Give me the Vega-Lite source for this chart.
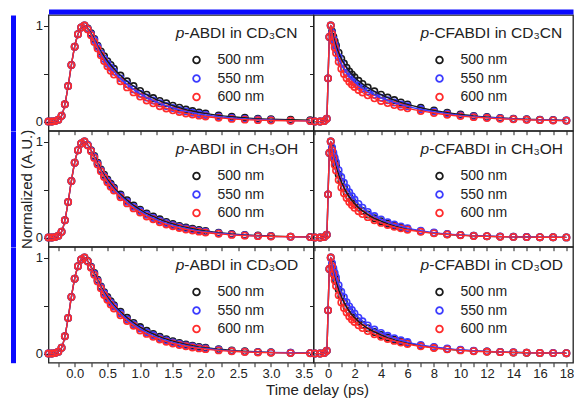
{
"$schema": "https://vega.github.io/schema/vega-lite/v6.json",
"background": "white",
"padding": {"left": 11.5, "top": 10, "right": 0, "bottom": 0},
"config": {
  "font": "Liberation Sans",
  "view": {"stroke": "#222", "strokeWidth": 1.3},
  "point": {"opacity": 1},
  "axis": {"grid": false, "domain": false, "tickColor": "#222", "labelColor": "#222", "labelFont": "Liberation Sans", "labelFontSize": 13, "titleFont": "Liberation Sans", "titleFontSize": 15, "titleFontWeight": "normal", "titleColor": "#222"},
  "legend": {"orient": "none", "title": null, "symbolType": "circle", "symbolSize": 45, "symbolStrokeWidth": 1.8, "symbolOpacity": 1, "labelFontSize": 14, "labelColor": "#222", "rowPadding": 4.5, "labelOffset": 14, "padding": 0}
},
"datasets": {
"aCN": [
{"w":500,"t":-0.4,"v":0},{"w":500,"t":-0.35,"v":0},{"w":500,"t":-0.3,"v":0.005},{"w":500,"t":-0.25,"v":0.02},{"w":500,"t":-0.2,"v":0.06},{"w":500,"t":-0.15,"v":0.18},{"w":500,"t":-0.1,"v":0.37},{"w":500,"t":-0.05,"v":0.59},{"w":500,"t":0,"v":0.78},{"w":500,"t":0.05,"v":0.91},{"w":500,"t":0.1,"v":0.98},{"w":500,"t":0.15,"v":1},
{"w":500,"t":0.2,"v":0.97},{"w":500,"t":0.25,"v":0.92},{"w":500,"t":0.3,"v":0.86},{"w":500,"t":0.35,"v":0.79},{"w":500,"t":0.4,"v":0.73},{"w":500,"t":0.45,"v":0.68},{"w":500,"t":0.5,"v":0.63},{"w":500,"t":0.55,"v":0.59},{"w":500,"t":0.6,"v":0.55},{"w":500,"t":0.7,"v":0.48},{"w":500,"t":0.8,"v":0.42},{"w":500,"t":0.9,"v":0.37},{"w":500,"t":1,"v":0.32},{"w":500,"t":1.1,"v":0.28},{"w":500,"t":1.2,"v":0.245},{"w":500,"t":1.3,"v":0.215},{"w":500,"t":1.4,"v":0.19},{"w":500,"t":1.5,"v":0.165},{"w":500,"t":1.6,"v":0.145},{"w":500,"t":1.7,"v":0.125},{"w":500,"t":1.8,"v":0.11},{"w":500,"t":1.9,"v":0.095},{"w":500,"t":2,"v":0.085},{"w":500,"t":2.2,"v":0.065},{"w":500,"t":2.4,"v":0.05},{"w":500,"t":2.6,"v":0.04},{"w":500,"t":2.8,"v":0.03},{"w":500,"t":3,"v":0.025},{"w":500,"t":3.3,"v":0.02},{"w":500,"t":3.6,"v":0.015},
{"w":550,"t":-0.4,"v":0},{"w":550,"t":-0.35,"v":0},{"w":550,"t":-0.3,"v":0.005},{"w":550,"t":-0.25,"v":0.02},{"w":550,"t":-0.2,"v":0.06},{"w":550,"t":-0.15,"v":0.18},{"w":550,"t":-0.1,"v":0.37},{"w":550,"t":-0.05,"v":0.59},{"w":550,"t":0,"v":0.78},{"w":550,"t":0.05,"v":0.91},{"w":550,"t":0.1,"v":0.98},{"w":550,"t":0.15,"v":1},
{"w":550,"t":0.2,"v":0.965},{"w":550,"t":0.25,"v":0.91},{"w":550,"t":0.3,"v":0.85},{"w":550,"t":0.35,"v":0.78},{"w":550,"t":0.4,"v":0.71},{"w":550,"t":0.45,"v":0.655},{"w":550,"t":0.5,"v":0.605},{"w":550,"t":0.55,"v":0.56},{"w":550,"t":0.6,"v":0.52},{"w":550,"t":0.7,"v":0.45},{"w":550,"t":0.8,"v":0.39},{"w":550,"t":0.9,"v":0.335},{"w":550,"t":1,"v":0.29},{"w":550,"t":1.1,"v":0.25},{"w":550,"t":1.2,"v":0.22},{"w":550,"t":1.3,"v":0.19},{"w":550,"t":1.4,"v":0.163},{"w":550,"t":1.5,"v":0.141},{"w":550,"t":1.6,"v":0.122},{"w":550,"t":1.7,"v":0.106},{"w":550,"t":1.8,"v":0.092},{"w":550,"t":1.9,"v":0.079},{"w":550,"t":2,"v":0.068},{"w":550,"t":2.2,"v":0.051},{"w":550,"t":2.4,"v":0.038},{"w":550,"t":2.6,"v":0.028},{"w":550,"t":2.8,"v":0.021},{"w":550,"t":3,"v":0.016},{"w":550,"t":3.3,"v":0.01},{"w":550,"t":3.6,"v":0.007},
{"w":600,"t":-0.4,"v":0},{"w":600,"t":-0.35,"v":0},{"w":600,"t":-0.3,"v":0.005},{"w":600,"t":-0.25,"v":0.02},{"w":600,"t":-0.2,"v":0.06},{"w":600,"t":-0.15,"v":0.18},{"w":600,"t":-0.1,"v":0.37},{"w":600,"t":-0.05,"v":0.59},{"w":600,"t":0,"v":0.78},{"w":600,"t":0.05,"v":0.91},{"w":600,"t":0.1,"v":0.98},{"w":600,"t":0.15,"v":1},
{"w":600,"t":0.2,"v":0.96},{"w":600,"t":0.25,"v":0.9},{"w":600,"t":0.3,"v":0.83},{"w":600,"t":0.35,"v":0.76},{"w":600,"t":0.4,"v":0.69},{"w":600,"t":0.45,"v":0.63},{"w":600,"t":0.5,"v":0.575},{"w":600,"t":0.55,"v":0.53},{"w":600,"t":0.6,"v":0.49},{"w":600,"t":0.7,"v":0.42},{"w":600,"t":0.8,"v":0.356},{"w":600,"t":0.9,"v":0.304},{"w":600,"t":1,"v":0.26},{"w":600,"t":1.1,"v":0.22},{"w":600,"t":1.2,"v":0.19},{"w":600,"t":1.3,"v":0.16},{"w":600,"t":1.4,"v":0.137},{"w":600,"t":1.5,"v":0.117},{"w":600,"t":1.6,"v":0.1},{"w":600,"t":1.7,"v":0.085},{"w":600,"t":1.8,"v":0.073},{"w":600,"t":1.9,"v":0.062},{"w":600,"t":2,"v":0.053},{"w":600,"t":2.2,"v":0.039},{"w":600,"t":2.4,"v":0.028},{"w":600,"t":2.6,"v":0.02},{"w":600,"t":2.8,"v":0.015},{"w":600,"t":3,"v":0.011},{"w":600,"t":3.3,"v":0.008},{"w":600,"t":3.6,"v":0.005}
],
"aOH": [
{"w":500,"t":-0.4,"v":0},{"w":500,"t":-0.35,"v":0},{"w":500,"t":-0.3,"v":0.005},{"w":500,"t":-0.25,"v":0.02},{"w":500,"t":-0.2,"v":0.06},{"w":500,"t":-0.15,"v":0.18},{"w":500,"t":-0.1,"v":0.37},{"w":500,"t":-0.05,"v":0.59},{"w":500,"t":0,"v":0.78},{"w":500,"t":0.05,"v":0.91},{"w":500,"t":0.1,"v":0.98},{"w":500,"t":0.15,"v":1},
{"w":500,"t":0.2,"v":0.965},{"w":500,"t":0.25,"v":0.91},{"w":500,"t":0.3,"v":0.85},{"w":500,"t":0.35,"v":0.78},{"w":500,"t":0.4,"v":0.71},{"w":500,"t":0.45,"v":0.655},{"w":500,"t":0.5,"v":0.605},{"w":500,"t":0.55,"v":0.56},{"w":500,"t":0.6,"v":0.52},{"w":500,"t":0.7,"v":0.45},{"w":500,"t":0.8,"v":0.39},{"w":500,"t":0.9,"v":0.335},{"w":500,"t":1,"v":0.29},{"w":500,"t":1.1,"v":0.25},{"w":500,"t":1.2,"v":0.22},{"w":500,"t":1.3,"v":0.19},{"w":500,"t":1.4,"v":0.163},{"w":500,"t":1.5,"v":0.141},{"w":500,"t":1.6,"v":0.122},{"w":500,"t":1.7,"v":0.106},{"w":500,"t":1.8,"v":0.092},{"w":500,"t":1.9,"v":0.079},{"w":500,"t":2,"v":0.068},{"w":500,"t":2.2,"v":0.051},{"w":500,"t":2.4,"v":0.038},{"w":500,"t":2.6,"v":0.028},{"w":500,"t":2.8,"v":0.021},{"w":500,"t":3,"v":0.016},{"w":500,"t":3.3,"v":0.01},{"w":500,"t":3.6,"v":0.007},
{"w":550,"t":-0.4,"v":0},{"w":550,"t":-0.35,"v":0},{"w":550,"t":-0.3,"v":0.005},{"w":550,"t":-0.25,"v":0.02},{"w":550,"t":-0.2,"v":0.06},{"w":550,"t":-0.15,"v":0.18},{"w":550,"t":-0.1,"v":0.37},{"w":550,"t":-0.05,"v":0.59},{"w":550,"t":0,"v":0.78},{"w":550,"t":0.05,"v":0.91},{"w":550,"t":0.1,"v":0.98},{"w":550,"t":0.15,"v":1},
{"w":550,"t":0.2,"v":0.965},{"w":550,"t":0.25,"v":0.905},{"w":550,"t":0.3,"v":0.84},{"w":550,"t":0.35,"v":0.77},{"w":550,"t":0.4,"v":0.7},{"w":550,"t":0.45,"v":0.64},{"w":550,"t":0.5,"v":0.59},{"w":550,"t":0.55,"v":0.545},{"w":550,"t":0.6,"v":0.505},{"w":550,"t":0.7,"v":0.435},{"w":550,"t":0.8,"v":0.373},{"w":550,"t":0.9,"v":0.32},{"w":550,"t":1,"v":0.276},{"w":550,"t":1.1,"v":0.237},{"w":550,"t":1.2,"v":0.204},{"w":550,"t":1.3,"v":0.175},{"w":550,"t":1.4,"v":0.15},{"w":550,"t":1.5,"v":0.129},{"w":550,"t":1.6,"v":0.111},{"w":550,"t":1.7,"v":0.095},{"w":550,"t":1.8,"v":0.082},{"w":550,"t":1.9,"v":0.07},{"w":550,"t":2,"v":0.06},{"w":550,"t":2.2,"v":0.045},{"w":550,"t":2.4,"v":0.033},{"w":550,"t":2.6,"v":0.024},{"w":550,"t":2.8,"v":0.018},{"w":550,"t":3,"v":0.013},{"w":550,"t":3.3,"v":0.009},{"w":550,"t":3.6,"v":0.005},
{"w":600,"t":-0.4,"v":0},{"w":600,"t":-0.35,"v":0},{"w":600,"t":-0.3,"v":0.005},{"w":600,"t":-0.25,"v":0.02},{"w":600,"t":-0.2,"v":0.06},{"w":600,"t":-0.15,"v":0.18},{"w":600,"t":-0.1,"v":0.37},{"w":600,"t":-0.05,"v":0.59},{"w":600,"t":0,"v":0.78},{"w":600,"t":0.05,"v":0.91},{"w":600,"t":0.1,"v":0.98},{"w":600,"t":0.15,"v":1},
{"w":600,"t":0.2,"v":0.96},{"w":600,"t":0.25,"v":0.9},{"w":600,"t":0.3,"v":0.83},{"w":600,"t":0.35,"v":0.76},{"w":600,"t":0.4,"v":0.69},{"w":600,"t":0.45,"v":0.63},{"w":600,"t":0.5,"v":0.575},{"w":600,"t":0.55,"v":0.53},{"w":600,"t":0.6,"v":0.49},{"w":600,"t":0.7,"v":0.42},{"w":600,"t":0.8,"v":0.356},{"w":600,"t":0.9,"v":0.304},{"w":600,"t":1,"v":0.26},{"w":600,"t":1.1,"v":0.22},{"w":600,"t":1.2,"v":0.19},{"w":600,"t":1.3,"v":0.16},{"w":600,"t":1.4,"v":0.137},{"w":600,"t":1.5,"v":0.117},{"w":600,"t":1.6,"v":0.1},{"w":600,"t":1.7,"v":0.085},{"w":600,"t":1.8,"v":0.073},{"w":600,"t":1.9,"v":0.062},{"w":600,"t":2,"v":0.053},{"w":600,"t":2.2,"v":0.039},{"w":600,"t":2.4,"v":0.028},{"w":600,"t":2.6,"v":0.02},{"w":600,"t":2.8,"v":0.015},{"w":600,"t":3,"v":0.011},{"w":600,"t":3.3,"v":0.008},{"w":600,"t":3.6,"v":0.005}
],
"aOD": [
{"w":500,"t":-0.4,"v":0},{"w":500,"t":-0.35,"v":0},{"w":500,"t":-0.3,"v":0.005},{"w":500,"t":-0.25,"v":0.02},{"w":500,"t":-0.2,"v":0.06},{"w":500,"t":-0.15,"v":0.18},{"w":500,"t":-0.1,"v":0.37},{"w":500,"t":-0.05,"v":0.59},{"w":500,"t":0,"v":0.78},{"w":500,"t":0.05,"v":0.91},{"w":500,"t":0.1,"v":0.98},{"w":500,"t":0.15,"v":1},
{"w":500,"t":0.2,"v":0.965},{"w":500,"t":0.25,"v":0.905},{"w":500,"t":0.3,"v":0.84},{"w":500,"t":0.35,"v":0.77},{"w":500,"t":0.4,"v":0.7},{"w":500,"t":0.45,"v":0.64},{"w":500,"t":0.5,"v":0.59},{"w":500,"t":0.55,"v":0.545},{"w":500,"t":0.6,"v":0.505},{"w":500,"t":0.7,"v":0.435},{"w":500,"t":0.8,"v":0.373},{"w":500,"t":0.9,"v":0.32},{"w":500,"t":1,"v":0.276},{"w":500,"t":1.1,"v":0.237},{"w":500,"t":1.2,"v":0.204},{"w":500,"t":1.3,"v":0.175},{"w":500,"t":1.4,"v":0.15},{"w":500,"t":1.5,"v":0.129},{"w":500,"t":1.6,"v":0.111},{"w":500,"t":1.7,"v":0.095},{"w":500,"t":1.8,"v":0.082},{"w":500,"t":1.9,"v":0.07},{"w":500,"t":2,"v":0.06},{"w":500,"t":2.2,"v":0.045},{"w":500,"t":2.4,"v":0.033},{"w":500,"t":2.6,"v":0.024},{"w":500,"t":2.8,"v":0.018},{"w":500,"t":3,"v":0.013},{"w":500,"t":3.3,"v":0.009},{"w":500,"t":3.6,"v":0.005},
{"w":550,"t":-0.4,"v":0},{"w":550,"t":-0.35,"v":0},{"w":550,"t":-0.3,"v":0.005},{"w":550,"t":-0.25,"v":0.02},{"w":550,"t":-0.2,"v":0.06},{"w":550,"t":-0.15,"v":0.18},{"w":550,"t":-0.1,"v":0.37},{"w":550,"t":-0.05,"v":0.59},{"w":550,"t":0,"v":0.78},{"w":550,"t":0.05,"v":0.91},{"w":550,"t":0.1,"v":0.98},{"w":550,"t":0.15,"v":1},
{"w":550,"t":0.2,"v":0.96},{"w":550,"t":0.25,"v":0.9},{"w":550,"t":0.3,"v":0.83},{"w":550,"t":0.35,"v":0.76},{"w":550,"t":0.4,"v":0.69},{"w":550,"t":0.45,"v":0.63},{"w":550,"t":0.5,"v":0.575},{"w":550,"t":0.55,"v":0.53},{"w":550,"t":0.6,"v":0.49},{"w":550,"t":0.7,"v":0.42},{"w":550,"t":0.8,"v":0.356},{"w":550,"t":0.9,"v":0.304},{"w":550,"t":1,"v":0.26},{"w":550,"t":1.1,"v":0.22},{"w":550,"t":1.2,"v":0.19},{"w":550,"t":1.3,"v":0.16},{"w":550,"t":1.4,"v":0.137},{"w":550,"t":1.5,"v":0.117},{"w":550,"t":1.6,"v":0.1},{"w":550,"t":1.7,"v":0.085},{"w":550,"t":1.8,"v":0.073},{"w":550,"t":1.9,"v":0.062},{"w":550,"t":2,"v":0.053},{"w":550,"t":2.2,"v":0.039},{"w":550,"t":2.4,"v":0.028},{"w":550,"t":2.6,"v":0.02},{"w":550,"t":2.8,"v":0.015},{"w":550,"t":3,"v":0.011},{"w":550,"t":3.3,"v":0.008},{"w":550,"t":3.6,"v":0.005},
{"w":600,"t":-0.4,"v":0},{"w":600,"t":-0.35,"v":0},{"w":600,"t":-0.3,"v":0.005},{"w":600,"t":-0.25,"v":0.02},{"w":600,"t":-0.2,"v":0.06},{"w":600,"t":-0.15,"v":0.18},{"w":600,"t":-0.1,"v":0.37},{"w":600,"t":-0.05,"v":0.59},{"w":600,"t":0,"v":0.78},{"w":600,"t":0.05,"v":0.91},{"w":600,"t":0.1,"v":0.98},{"w":600,"t":0.15,"v":1},
{"w":600,"t":0.2,"v":0.96},{"w":600,"t":0.25,"v":0.895},{"w":600,"t":0.3,"v":0.82},{"w":600,"t":0.35,"v":0.75},{"w":600,"t":0.4,"v":0.68},{"w":600,"t":0.45,"v":0.61},{"w":600,"t":0.5,"v":0.56},{"w":600,"t":0.55,"v":0.51},{"w":600,"t":0.6,"v":0.47},{"w":600,"t":0.7,"v":0.4},{"w":600,"t":0.8,"v":0.34},{"w":600,"t":0.9,"v":0.29},{"w":600,"t":1,"v":0.24},{"w":600,"t":1.1,"v":0.205},{"w":600,"t":1.2,"v":0.174},{"w":600,"t":1.3,"v":0.147},{"w":600,"t":1.4,"v":0.124},{"w":600,"t":1.5,"v":0.105},{"w":600,"t":1.6,"v":0.089},{"w":600,"t":1.7,"v":0.076},{"w":600,"t":1.8,"v":0.064},{"w":600,"t":1.9,"v":0.054},{"w":600,"t":2,"v":0.046},{"w":600,"t":2.2,"v":0.033},{"w":600,"t":2.4,"v":0.024},{"w":600,"t":2.6,"v":0.017},{"w":600,"t":2.8,"v":0.012},{"w":600,"t":3,"v":0.009},{"w":600,"t":3.3,"v":0.005},{"w":600,"t":3.6,"v":0.003}
],
"cCN": [
{"w":500,"t":-1,"v":0},{"w":500,"t":-0.6,"v":0},{"w":500,"t":-0.3,"v":0.005},{"w":500,"t":-0.1,"v":0.03},{"w":500,"t":0,"v":0.45},{"w":500,"t":0.1,"v":0.88},{"w":500,"t":0.2,"v":1},
{"w":500,"t":0.3,"v":0.939},{"w":500,"t":0.4,"v":0.885},{"w":500,"t":0.5,"v":0.836},{"w":500,"t":0.6,"v":0.793},{"w":500,"t":0.8,"v":0.717},{"w":500,"t":1,"v":0.656},{"w":500,"t":1.2,"v":0.605},{"w":500,"t":1.4,"v":0.561},{"w":500,"t":1.6,"v":0.523},{"w":500,"t":1.8,"v":0.492},{"w":500,"t":2,"v":0.463},{"w":500,"t":2.3,"v":0.425},{"w":500,"t":2.6,"v":0.393},{"w":500,"t":3,"v":0.355},{"w":500,"t":3.5,"v":0.315},{"w":500,"t":4,"v":0.281},{"w":500,"t":4.5,"v":0.25},{"w":500,"t":5,"v":0.224},{"w":500,"t":5.5,"v":0.2},{"w":500,"t":6,"v":0.179},{"w":500,"t":7,"v":0.144},{"w":500,"t":8,"v":0.115},{"w":500,"t":9,"v":0.092},{"w":500,"t":10,"v":0.073},{"w":500,"t":11,"v":0.059},{"w":500,"t":12,"v":0.047},{"w":500,"t":13,"v":0.038},{"w":500,"t":14,"v":0.031},{"w":500,"t":15,"v":0.024},{"w":500,"t":16,"v":0.02},{"w":500,"t":17,"v":0.016},{"w":500,"t":18,"v":0.012},
{"w":550,"t":-1,"v":0},{"w":550,"t":-0.6,"v":0},{"w":550,"t":-0.3,"v":0.005},{"w":550,"t":-0.1,"v":0.03},{"w":550,"t":0,"v":0.45},{"w":550,"t":0.1,"v":0.88},{"w":550,"t":0.2,"v":1},
{"w":550,"t":0.3,"v":0.925},{"w":550,"t":0.4,"v":0.861},{"w":550,"t":0.5,"v":0.804},{"w":550,"t":0.6,"v":0.754},{"w":550,"t":0.8,"v":0.67},{"w":550,"t":1,"v":0.604},{"w":550,"t":1.2,"v":0.551},{"w":550,"t":1.4,"v":0.506},{"w":550,"t":1.6,"v":0.469},{"w":550,"t":1.8,"v":0.439},{"w":550,"t":2,"v":0.412},{"w":550,"t":2.3,"v":0.377},{"w":550,"t":2.6,"v":0.348},{"w":550,"t":3,"v":0.314},{"w":550,"t":3.5,"v":0.279},{"w":550,"t":4,"v":0.248},{"w":550,"t":4.5,"v":0.222},{"w":550,"t":5,"v":0.198},{"w":550,"t":5.5,"v":0.177},{"w":550,"t":6,"v":0.159},{"w":550,"t":7,"v":0.128},{"w":550,"t":8,"v":0.102},{"w":550,"t":9,"v":0.082},{"w":550,"t":10,"v":0.065},{"w":550,"t":11,"v":0.053},{"w":550,"t":12,"v":0.042},{"w":550,"t":13,"v":0.034},{"w":550,"t":14,"v":0.028},{"w":550,"t":15,"v":0.022},{"w":550,"t":16,"v":0.018},{"w":550,"t":17,"v":0.014},{"w":550,"t":18,"v":0.011},
{"w":600,"t":-1,"v":0},{"w":600,"t":-0.6,"v":0},{"w":600,"t":-0.3,"v":0.005},{"w":600,"t":-0.1,"v":0.03},{"w":600,"t":0,"v":0.45},{"w":600,"t":0.1,"v":0.88},{"w":600,"t":0.2,"v":1},
{"w":600,"t":0.3,"v":0.912},{"w":600,"t":0.4,"v":0.837},{"w":600,"t":0.5,"v":0.771},{"w":600,"t":0.6,"v":0.715},{"w":600,"t":0.8,"v":0.622},{"w":600,"t":1,"v":0.551},{"w":600,"t":1.2,"v":0.496},{"w":600,"t":1.4,"v":0.451},{"w":600,"t":1.6,"v":0.415},{"w":600,"t":1.8,"v":0.386},{"w":600,"t":2,"v":0.36},{"w":600,"t":2.3,"v":0.329},{"w":600,"t":2.6,"v":0.303},{"w":600,"t":3,"v":0.273},{"w":600,"t":3.5,"v":0.242},{"w":600,"t":4,"v":0.215},{"w":600,"t":4.5,"v":0.193},{"w":600,"t":5,"v":0.172},{"w":600,"t":5.5,"v":0.154},{"w":600,"t":6,"v":0.138},{"w":600,"t":7,"v":0.111},{"w":600,"t":8,"v":0.089},{"w":600,"t":9,"v":0.071},{"w":600,"t":10,"v":0.057},{"w":600,"t":11,"v":0.046},{"w":600,"t":12,"v":0.037},{"w":600,"t":13,"v":0.029},{"w":600,"t":14,"v":0.024},{"w":600,"t":15,"v":0.019},{"w":600,"t":16,"v":0.015},{"w":600,"t":17,"v":0.012},{"w":600,"t":18,"v":0.01}
],
"cOH": [
{"w":500,"t":-1,"v":0},{"w":500,"t":-0.6,"v":0},{"w":500,"t":-0.3,"v":0.005},{"w":500,"t":-0.1,"v":0.03},{"w":500,"t":0,"v":0.45},{"w":500,"t":0.1,"v":0.88},{"w":500,"t":0.2,"v":1},
{"w":500,"t":0.3,"v":0.927},{"w":500,"t":0.4,"v":0.861},{"w":500,"t":0.5,"v":0.803},{"w":500,"t":0.6,"v":0.749},{"w":500,"t":0.8,"v":0.658},{"w":500,"t":1,"v":0.583},{"w":500,"t":1.2,"v":0.522},{"w":500,"t":1.4,"v":0.469},{"w":500,"t":1.6,"v":0.425},{"w":500,"t":1.8,"v":0.387},{"w":500,"t":2,"v":0.355},{"w":500,"t":2.3,"v":0.312},{"w":500,"t":2.6,"v":0.278},{"w":500,"t":3,"v":0.24},{"w":500,"t":3.5,"v":0.201},{"w":500,"t":4,"v":0.171},{"w":500,"t":4.5,"v":0.144},{"w":500,"t":5,"v":0.123},{"w":500,"t":5.5,"v":0.105},{"w":500,"t":6,"v":0.09},{"w":500,"t":7,"v":0.065},{"w":500,"t":8,"v":0.048},{"w":500,"t":9,"v":0.035},{"w":500,"t":10,"v":0.026},{"w":500,"t":11,"v":0.019},{"w":500,"t":12,"v":0.014},{"w":500,"t":13,"v":0.01},{"w":500,"t":14,"v":0.008},{"w":500,"t":15,"v":0.006},{"w":500,"t":16,"v":0.004},{"w":500,"t":17,"v":0.003},{"w":500,"t":18,"v":0.002},
{"w":550,"t":-1,"v":0},{"w":550,"t":-0.6,"v":0},{"w":550,"t":-0.3,"v":0.005},{"w":550,"t":-0.1,"v":0.03},{"w":550,"t":0,"v":0.45},{"w":550,"t":0.1,"v":0.88},{"w":550,"t":0.2,"v":1},
{"w":550,"t":0.3,"v":0.939},{"w":550,"t":0.4,"v":0.883},{"w":550,"t":0.5,"v":0.833},{"w":550,"t":0.6,"v":0.785},{"w":550,"t":0.8,"v":0.702},{"w":550,"t":1,"v":0.631},{"w":550,"t":1.2,"v":0.571},{"w":550,"t":1.4,"v":0.518},{"w":550,"t":1.6,"v":0.472},{"w":550,"t":1.8,"v":0.432},{"w":550,"t":2,"v":0.396},{"w":550,"t":2.3,"v":0.35},{"w":550,"t":2.6,"v":0.311},{"w":550,"t":3,"v":0.268},{"w":550,"t":3.5,"v":0.224},{"w":550,"t":4,"v":0.189},{"w":550,"t":4.5,"v":0.16},{"w":550,"t":5,"v":0.136},{"w":550,"t":5.5,"v":0.116},{"w":550,"t":6,"v":0.098},{"w":550,"t":7,"v":0.071},{"w":550,"t":8,"v":0.052},{"w":550,"t":9,"v":0.038},{"w":550,"t":10,"v":0.028},{"w":550,"t":11,"v":0.02},{"w":550,"t":12,"v":0.015},{"w":550,"t":13,"v":0.011},{"w":550,"t":14,"v":0.008},{"w":550,"t":15,"v":0.006},{"w":550,"t":16,"v":0.004},{"w":550,"t":17,"v":0.003},{"w":550,"t":18,"v":0.002},
{"w":600,"t":-1,"v":0},{"w":600,"t":-0.6,"v":0},{"w":600,"t":-0.3,"v":0.005},{"w":600,"t":-0.1,"v":0.03},{"w":600,"t":0,"v":0.45},{"w":600,"t":0.1,"v":0.88},{"w":600,"t":0.2,"v":1},
{"w":600,"t":0.3,"v":0.908},{"w":600,"t":0.4,"v":0.828},{"w":600,"t":0.5,"v":0.758},{"w":600,"t":0.6,"v":0.698},{"w":600,"t":0.8,"v":0.599},{"w":600,"t":1,"v":0.522},{"w":600,"t":1.2,"v":0.461},{"w":600,"t":1.4,"v":0.412},{"w":600,"t":1.6,"v":0.371},{"w":600,"t":1.8,"v":0.339},{"w":600,"t":2,"v":0.31},{"w":600,"t":2.3,"v":0.275},{"w":600,"t":2.6,"v":0.245},{"w":600,"t":3,"v":0.213},{"w":600,"t":3.5,"v":0.181},{"w":600,"t":4,"v":0.153},{"w":600,"t":4.5,"v":0.131},{"w":600,"t":5,"v":0.112},{"w":600,"t":5.5,"v":0.096},{"w":600,"t":6,"v":0.082},{"w":600,"t":7,"v":0.06},{"w":600,"t":8,"v":0.044},{"w":600,"t":9,"v":0.032},{"w":600,"t":10,"v":0.024},{"w":600,"t":11,"v":0.017},{"w":600,"t":12,"v":0.013},{"w":600,"t":13,"v":0.009},{"w":600,"t":14,"v":0.007},{"w":600,"t":15,"v":0.005},{"w":600,"t":16,"v":0.004},{"w":600,"t":17,"v":0.003},{"w":600,"t":18,"v":0.002}
],
"cOD": [
{"w":500,"t":-1,"v":0},{"w":500,"t":-0.6,"v":0},{"w":500,"t":-0.3,"v":0.005},{"w":500,"t":-0.1,"v":0.03},{"w":500,"t":0,"v":0.45},{"w":500,"t":0.1,"v":0.88},{"w":500,"t":0.2,"v":1},
{"w":500,"t":0.3,"v":0.929},{"w":500,"t":0.4,"v":0.865},{"w":500,"t":0.5,"v":0.808},{"w":500,"t":0.6,"v":0.756},{"w":500,"t":0.8,"v":0.667},{"w":500,"t":1,"v":0.596},{"w":500,"t":1.2,"v":0.535},{"w":500,"t":1.4,"v":0.485},{"w":500,"t":1.6,"v":0.443},{"w":500,"t":1.8,"v":0.406},{"w":500,"t":2,"v":0.375},{"w":500,"t":2.3,"v":0.334},{"w":500,"t":2.6,"v":0.3},{"w":500,"t":3,"v":0.263},{"w":500,"t":3.5,"v":0.225},{"w":500,"t":4,"v":0.194},{"w":500,"t":4.5,"v":0.167},{"w":500,"t":5,"v":0.145},{"w":500,"t":5.5,"v":0.126},{"w":500,"t":6,"v":0.11},{"w":500,"t":7,"v":0.083},{"w":500,"t":8,"v":0.063},{"w":500,"t":9,"v":0.048},{"w":500,"t":10,"v":0.036},{"w":500,"t":11,"v":0.028},{"w":500,"t":12,"v":0.021},{"w":500,"t":13,"v":0.016},{"w":500,"t":14,"v":0.012},{"w":500,"t":15,"v":0.009},{"w":500,"t":16,"v":0.007},{"w":500,"t":17,"v":0.005},{"w":500,"t":18,"v":0.004},
{"w":550,"t":-1,"v":0},{"w":550,"t":-0.6,"v":0},{"w":550,"t":-0.3,"v":0.005},{"w":550,"t":-0.1,"v":0.03},{"w":550,"t":0,"v":0.45},{"w":550,"t":0.1,"v":0.88},{"w":550,"t":0.2,"v":1},
{"w":550,"t":0.3,"v":0.942},{"w":550,"t":0.4,"v":0.888},{"w":550,"t":0.5,"v":0.839},{"w":550,"t":0.6,"v":0.793},{"w":550,"t":0.8,"v":0.713},{"w":550,"t":1,"v":0.645},{"w":550,"t":1.2,"v":0.586},{"w":550,"t":1.4,"v":0.536},{"w":550,"t":1.6,"v":0.491},{"w":550,"t":1.8,"v":0.453},{"w":550,"t":2,"v":0.418},{"w":550,"t":2.3,"v":0.374},{"w":550,"t":2.6,"v":0.336},{"w":550,"t":3,"v":0.293},{"w":550,"t":3.5,"v":0.25},{"w":550,"t":4,"v":0.215},{"w":550,"t":4.5,"v":0.185},{"w":550,"t":5,"v":0.16},{"w":550,"t":5.5,"v":0.138},{"w":550,"t":6,"v":0.12},{"w":550,"t":7,"v":0.091},{"w":550,"t":8,"v":0.069},{"w":550,"t":9,"v":0.052},{"w":550,"t":10,"v":0.04},{"w":550,"t":11,"v":0.03},{"w":550,"t":12,"v":0.023},{"w":550,"t":13,"v":0.017},{"w":550,"t":14,"v":0.013},{"w":550,"t":15,"v":0.01},{"w":550,"t":16,"v":0.007},{"w":550,"t":17,"v":0.006},{"w":550,"t":18,"v":0.004},
{"w":600,"t":-1,"v":0},{"w":600,"t":-0.6,"v":0},{"w":600,"t":-0.3,"v":0.005},{"w":600,"t":-0.1,"v":0.03},{"w":600,"t":0,"v":0.45},{"w":600,"t":0.1,"v":0.88},{"w":600,"t":0.2,"v":1},
{"w":600,"t":0.3,"v":0.91},{"w":600,"t":0.4,"v":0.831},{"w":600,"t":0.5,"v":0.763},{"w":600,"t":0.6,"v":0.705},{"w":600,"t":0.8,"v":0.607},{"w":600,"t":1,"v":0.533},{"w":600,"t":1.2,"v":0.474},{"w":600,"t":1.4,"v":0.427},{"w":600,"t":1.6,"v":0.387},{"w":600,"t":1.8,"v":0.356},{"w":600,"t":2,"v":0.329},{"w":600,"t":2.3,"v":0.294},{"w":600,"t":2.6,"v":0.266},{"w":600,"t":3,"v":0.234},{"w":600,"t":3.5,"v":0.202},{"w":600,"t":4,"v":0.174},{"w":600,"t":4.5,"v":0.152},{"w":600,"t":5,"v":0.132},{"w":600,"t":5.5,"v":0.115},{"w":600,"t":6,"v":0.1},{"w":600,"t":7,"v":0.076},{"w":600,"t":8,"v":0.058},{"w":600,"t":9,"v":0.044},{"w":600,"t":10,"v":0.033},{"w":600,"t":11,"v":0.025},{"w":600,"t":12,"v":0.019},{"w":600,"t":13,"v":0.015},{"w":600,"t":14,"v":0.011},{"w":600,"t":15,"v":0.008},{"w":600,"t":16,"v":0.006},{"w":600,"t":17,"v":0.005},{"w":600,"t":18,"v":0.004}
]
},
"columns": 2,
"spacing": 0,
"bounds": "flush",
"resolve": {"legend": {"color": "independent"}},
"concat": [
{
 "width": 265, "height": 115.7, "data": {"name": "aCN"},
 "layer": [
  {"mark": {"type": "point", "filled": false, "size": 40, "strokeWidth": 1.6, "opacity": 1},
   "encoding": {
    "x": {"field": "t", "type": "quantitative", "scale": {"domain": [-0.4, 3.65], "nice": false, "zero": false}, "axis": {"values": [-0.25,0,0.25,0.5,0.75,1,1.25,1.5,1.75,2,2.25,2.5,2.75,3,3.25,3.5], "labels": false, "tickSize": 4, "title": null}},
    "y": {"field": "v", "type": "quantitative", "scale": {"domain": [-0.095, 1.11], "nice": false, "zero": false}, "axis": {"values": [0,0.5,1], "labelExpr": "datum.value == 0.5 ? '' : format(datum.value, 'd')", "tickSize": 5, "labelPadding": 1, "title": null}},
    "color": {"field": "w", "type": "nominal", "scale": {"domain": [500,550,600], "range": ["#1a1a1a","#3c3cff","#ff2b2b"]}, "legend": {"legendX": 141, "legendY": 38, "labelExpr": "datum.label + ' nm'"}}
   }},
  {"mark": {"type": "line", "strokeWidth": 1.4, "interpolate": "monotone"},
   "encoding": {
    "x": {"field": "t", "type": "quantitative", "axis": {"orient": "top", "offset": 3.5, "domain": true, "domainColor": "#0a0aff", "domainWidth": 5, "ticks": false, "labels": false, "title": null}},
    "y": {"field": "v", "type": "quantitative", "axis": {"orient": "left", "offset": 35.5, "domain": true, "domainColor": "#0a0aff", "domainWidth": 5, "ticks": false, "labels": false, "title": null}},
    "stroke": {"field": "w", "type": "nominal", "scale": {"domain": [500,550,600], "range": ["#1a1a1a","#3c3cff","#ff2b2b"]}, "legend": null}
   }},
  {"data": {"values": [{}]}, "mark": {"type": "text", "fontStyle": "italic", "fontSize": 15.5, "align": "left", "baseline": "middle", "color": "#222"},
   "encoding": {"x": {"datum": 1.544, "type": "quantitative", "axis": null}, "y": {"datum": 0.925, "type": "quantitative", "axis": null}, "text": {"value": "p"}}},
  {"data": {"values": [{}]}, "mark": {"type": "text", "fontSize": 15.5, "align": "left", "baseline": "middle", "color": "#222"},
   "encoding": {"x": {"datum": 1.675, "type": "quantitative", "axis": null}, "y": {"datum": 0.925, "type": "quantitative", "axis": null}, "text": {"value": "-ABDI in CD₃CN"}}}
 ],
 "resolve": {"axis": {"x": "independent", "y": "independent"}}
},
{
 "width": 259.5, "height": 115.7, "data": {"name": "cCN"},
 "layer": [
  {"mark": {"type": "point", "filled": false, "size": 40, "strokeWidth": 1.6, "opacity": 1},
   "encoding": {
    "x": {"field": "t", "type": "quantitative", "scale": {"domain": [-1.1, 18.5], "nice": false, "zero": false}, "axis": {"values": [-1,0,1,2,3,4,5,6,7,8,9,10,11,12,13,14,15,16,17,18], "labels": false, "tickSize": 4, "title": null}},
    "y": {"field": "v", "type": "quantitative", "scale": {"domain": [-0.095, 1.11], "nice": false, "zero": false}, "axis": {"values": [0,0.5,1], "labels": false, "tickSize": 4, "title": null}},
    "color": {"field": "w", "type": "nominal", "scale": {"domain": [500,550,600], "range": ["#1a1a1a","#3c3cff","#ff2b2b"]}, "legend": {"legendX": 119, "legendY": 38, "labelExpr": "datum.label + ' nm'"}}
   }},
  {"mark": {"type": "line", "strokeWidth": 1.4, "interpolate": "monotone"},
   "encoding": {
    "x": {"field": "t", "type": "quantitative", "axis": {"orient": "top", "offset": 3.5, "domain": true, "domainColor": "#0a0aff", "domainWidth": 5, "ticks": false, "labels": false, "title": null}},
    "y": {"field": "v", "type": "quantitative", "axis": null},
    "stroke": {"field": "w", "type": "nominal", "scale": {"domain": [500,550,600], "range": ["#1a1a1a","#3c3cff","#ff2b2b"]}, "legend": null}
   }},
  {"data": {"values": [{}]}, "mark": {"type": "text", "fontStyle": "italic", "fontSize": 15.5, "align": "left", "baseline": "middle", "color": "#222"},
   "encoding": {"x": {"datum": 6.99, "type": "quantitative", "axis": null}, "y": {"datum": 0.925, "type": "quantitative", "axis": null}, "text": {"value": "p"}}},
  {"data": {"values": [{}]}, "mark": {"type": "text", "fontSize": 15.5, "align": "left", "baseline": "middle", "color": "#222"},
   "encoding": {"x": {"datum": 7.64, "type": "quantitative", "axis": null}, "y": {"datum": 0.925, "type": "quantitative", "axis": null}, "text": {"value": "-CFABDI in CD₃CN"}}}
 ],
 "resolve": {"axis": {"x": "independent", "y": "independent"}}
},
{
 "width": 265, "height": 115.7, "data": {"name": "aOH"},
 "layer": [
  {"mark": {"type": "point", "filled": false, "size": 40, "strokeWidth": 1.6, "opacity": 1},
   "encoding": {
    "x": {"field": "t", "type": "quantitative", "scale": {"domain": [-0.4, 3.65], "nice": false, "zero": false}, "axis": {"values": [-0.25,0,0.25,0.5,0.75,1,1.25,1.5,1.75,2,2.25,2.5,2.75,3,3.25,3.5], "labels": false, "tickSize": 4, "title": null}},
    "y": {"field": "v", "type": "quantitative", "scale": {"domain": [-0.095, 1.11], "nice": false, "zero": false}, "axis": {"values": [0,0.5,1], "labelExpr": "datum.value == 0.5 ? '' : format(datum.value, 'd')", "tickSize": 5, "labelPadding": 1, "title": "Normalized (A.U.)", "titlePadding": 1}},
    "color": {"field": "w", "type": "nominal", "scale": {"domain": [500,550,600], "range": ["#1a1a1a","#3c3cff","#ff2b2b"]}, "legend": {"legendX": 141, "legendY": 38, "labelExpr": "datum.label + ' nm'"}}
   }},
  {"mark": {"type": "line", "strokeWidth": 1.4, "interpolate": "monotone"},
   "encoding": {
    "x": {"field": "t", "type": "quantitative", "axis": null},
    "y": {"field": "v", "type": "quantitative", "axis": {"orient": "left", "offset": 35.5, "domain": true, "domainColor": "#0a0aff", "domainWidth": 5, "ticks": false, "labels": false, "title": null}},
    "stroke": {"field": "w", "type": "nominal", "scale": {"domain": [500,550,600], "range": ["#1a1a1a","#3c3cff","#ff2b2b"]}, "legend": null}
   }},
  {"data": {"values": [{}]}, "mark": {"type": "text", "fontStyle": "italic", "fontSize": 15.5, "align": "left", "baseline": "middle", "color": "#222"},
   "encoding": {"x": {"datum": 1.544, "type": "quantitative", "axis": null}, "y": {"datum": 0.925, "type": "quantitative", "axis": null}, "text": {"value": "p"}}},
  {"data": {"values": [{}]}, "mark": {"type": "text", "fontSize": 15.5, "align": "left", "baseline": "middle", "color": "#222"},
   "encoding": {"x": {"datum": 1.675, "type": "quantitative", "axis": null}, "y": {"datum": 0.925, "type": "quantitative", "axis": null}, "text": {"value": "-ABDI in CH₃OH"}}}
 ],
 "resolve": {"axis": {"x": "independent", "y": "independent"}}
},
{
 "width": 259.5, "height": 115.7, "data": {"name": "cOH"},
 "layer": [
  {"mark": {"type": "point", "filled": false, "size": 40, "strokeWidth": 1.6, "opacity": 1},
   "encoding": {
    "x": {"field": "t", "type": "quantitative", "scale": {"domain": [-1.1, 18.5], "nice": false, "zero": false}, "axis": {"values": [-1,0,1,2,3,4,5,6,7,8,9,10,11,12,13,14,15,16,17,18], "labels": false, "tickSize": 4, "title": null}},
    "y": {"field": "v", "type": "quantitative", "scale": {"domain": [-0.095, 1.11], "nice": false, "zero": false}, "axis": {"values": [0,0.5,1], "labels": false, "tickSize": 4, "title": null}},
    "color": {"field": "w", "type": "nominal", "scale": {"domain": [500,550,600], "range": ["#1a1a1a","#3c3cff","#ff2b2b"]}, "legend": {"legendX": 119, "legendY": 38, "labelExpr": "datum.label + ' nm'"}}
   }},
  {"mark": {"type": "line", "strokeWidth": 1.4, "interpolate": "monotone"},
   "encoding": {
    "x": {"field": "t", "type": "quantitative", "axis": null},
    "y": {"field": "v", "type": "quantitative", "axis": null},
    "stroke": {"field": "w", "type": "nominal", "scale": {"domain": [500,550,600], "range": ["#1a1a1a","#3c3cff","#ff2b2b"]}, "legend": null}
   }},
  {"data": {"values": [{}]}, "mark": {"type": "text", "fontStyle": "italic", "fontSize": 15.5, "align": "left", "baseline": "middle", "color": "#222"},
   "encoding": {"x": {"datum": 6.99, "type": "quantitative", "axis": null}, "y": {"datum": 0.925, "type": "quantitative", "axis": null}, "text": {"value": "p"}}},
  {"data": {"values": [{}]}, "mark": {"type": "text", "fontSize": 15.5, "align": "left", "baseline": "middle", "color": "#222"},
   "encoding": {"x": {"datum": 7.64, "type": "quantitative", "axis": null}, "y": {"datum": 0.925, "type": "quantitative", "axis": null}, "text": {"value": "-CFABDI in CH₃OH"}}}
 ],
 "resolve": {"axis": {"x": "independent", "y": "independent"}}
},
{
 "width": 265, "height": 115.7, "data": {"name": "aOD"},
 "layer": [
  {"mark": {"type": "point", "filled": false, "size": 40, "strokeWidth": 1.6, "opacity": 1},
   "encoding": {
    "x": {"field": "t", "type": "quantitative", "scale": {"domain": [-0.4, 3.65], "nice": false, "zero": false}, "axis": {"values": [-0.25,0,0.25,0.5,0.75,1,1.25,1.5,1.75,2,2.25,2.5,2.75,3,3.25,3.5], "labelExpr": "datum.value >= 0 && (datum.value*2) % 1 == 0 ? format(datum.value, '.1f') : ''", "tickSize": 4, "labelPadding": 1, "title": "Time delay (ps)", "titleX": 268.5, "titleY": 32, "titleBaseline": "alphabetic", "titleAlign": "center"}},
    "y": {"field": "v", "type": "quantitative", "scale": {"domain": [-0.095, 1.11], "nice": false, "zero": false}, "axis": {"values": [0,0.5,1], "labelExpr": "datum.value == 0.5 ? '' : format(datum.value, 'd')", "tickSize": 5, "labelPadding": 1, "title": null}},
    "color": {"field": "w", "type": "nominal", "scale": {"domain": [500,550,600], "range": ["#1a1a1a","#3c3cff","#ff2b2b"]}, "legend": {"legendX": 141, "legendY": 38, "labelExpr": "datum.label + ' nm'"}}
   }},
  {"mark": {"type": "line", "strokeWidth": 1.4, "interpolate": "monotone"},
   "encoding": {
    "x": {"field": "t", "type": "quantitative", "axis": null},
    "y": {"field": "v", "type": "quantitative", "axis": {"orient": "left", "offset": 35.5, "domain": true, "domainColor": "#0a0aff", "domainWidth": 5, "ticks": false, "labels": false, "title": null}},
    "stroke": {"field": "w", "type": "nominal", "scale": {"domain": [500,550,600], "range": ["#1a1a1a","#3c3cff","#ff2b2b"]}, "legend": null}
   }},
  {"data": {"values": [{}]}, "mark": {"type": "text", "fontStyle": "italic", "fontSize": 15.5, "align": "left", "baseline": "middle", "color": "#222"},
   "encoding": {"x": {"datum": 1.544, "type": "quantitative", "axis": null}, "y": {"datum": 0.925, "type": "quantitative", "axis": null}, "text": {"value": "p"}}},
  {"data": {"values": [{}]}, "mark": {"type": "text", "fontSize": 15.5, "align": "left", "baseline": "middle", "color": "#222"},
   "encoding": {"x": {"datum": 1.675, "type": "quantitative", "axis": null}, "y": {"datum": 0.925, "type": "quantitative", "axis": null}, "text": {"value": "-ABDI in CD₃OD"}}}
 ],
 "resolve": {"axis": {"x": "independent", "y": "independent"}}
},
{
 "width": 259.5, "height": 115.7, "data": {"name": "cOD"},
 "layer": [
  {"mark": {"type": "point", "filled": false, "size": 40, "strokeWidth": 1.6, "opacity": 1},
   "encoding": {
    "x": {"field": "t", "type": "quantitative", "scale": {"domain": [-1.1, 18.5], "nice": false, "zero": false}, "axis": {"values": [-1,0,1,2,3,4,5,6,7,8,9,10,11,12,13,14,15,16,17,18], "labelExpr": "datum.value >= 0 && datum.value % 2 == 0 ? datum.label : ''", "tickSize": 4, "labelPadding": 1, "title": null}},
    "y": {"field": "v", "type": "quantitative", "scale": {"domain": [-0.095, 1.11], "nice": false, "zero": false}, "axis": {"values": [0,0.5,1], "labels": false, "tickSize": 4, "title": null}},
    "color": {"field": "w", "type": "nominal", "scale": {"domain": [500,550,600], "range": ["#1a1a1a","#3c3cff","#ff2b2b"]}, "legend": {"legendX": 119, "legendY": 38, "labelExpr": "datum.label + ' nm'"}}
   }},
  {"mark": {"type": "line", "strokeWidth": 1.4, "interpolate": "monotone"},
   "encoding": {
    "x": {"field": "t", "type": "quantitative", "axis": null},
    "y": {"field": "v", "type": "quantitative", "axis": null},
    "stroke": {"field": "w", "type": "nominal", "scale": {"domain": [500,550,600], "range": ["#1a1a1a","#3c3cff","#ff2b2b"]}, "legend": null}
   }},
  {"data": {"values": [{}]}, "mark": {"type": "text", "fontStyle": "italic", "fontSize": 15.5, "align": "left", "baseline": "middle", "color": "#222"},
   "encoding": {"x": {"datum": 6.99, "type": "quantitative", "axis": null}, "y": {"datum": 0.925, "type": "quantitative", "axis": null}, "text": {"value": "p"}}},
  {"data": {"values": [{}]}, "mark": {"type": "text", "fontSize": 15.5, "align": "left", "baseline": "middle", "color": "#222"},
   "encoding": {"x": {"datum": 7.64, "type": "quantitative", "axis": null}, "y": {"datum": 0.925, "type": "quantitative", "axis": null}, "text": {"value": "-CFABDI in CD₃OD"}}}
 ],
 "resolve": {"axis": {"x": "independent", "y": "independent"}}
}
]
}
